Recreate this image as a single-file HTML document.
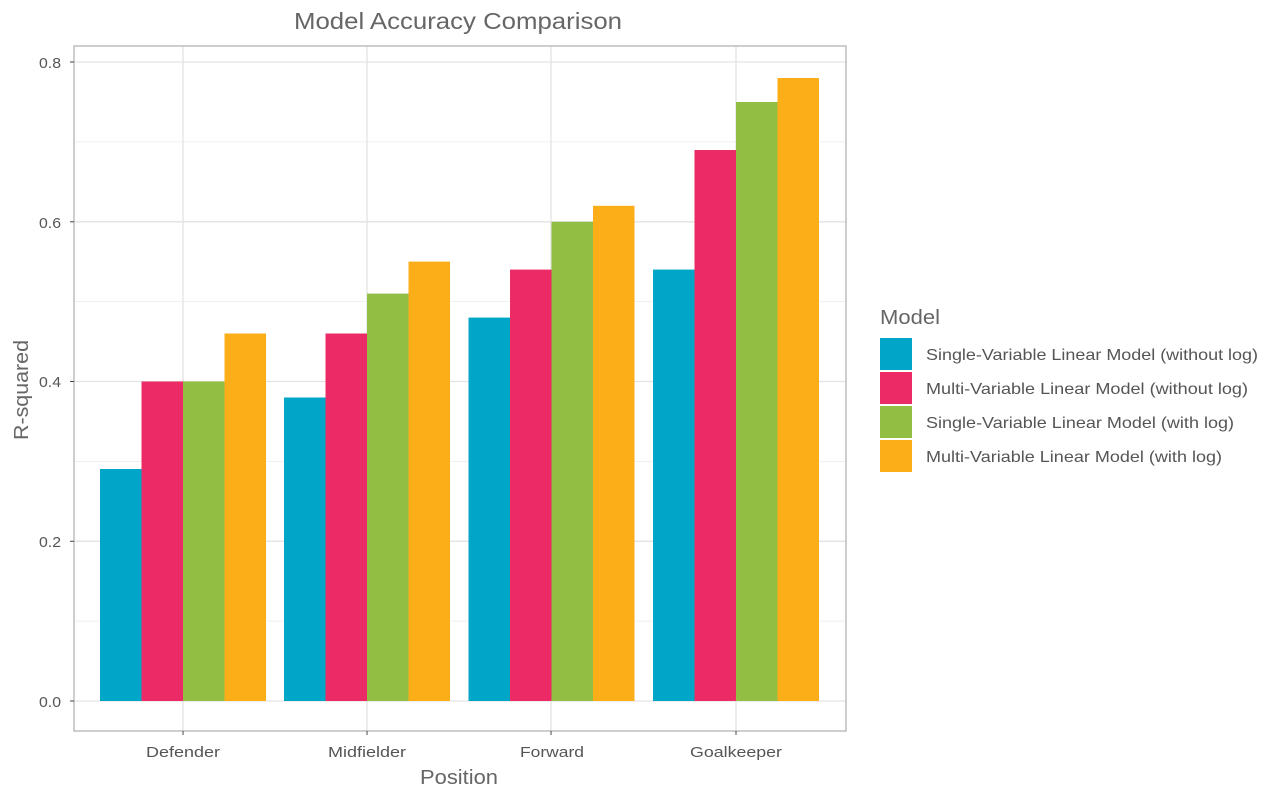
<!DOCTYPE html>
<html><head><meta charset="utf-8"><style>
body{margin:0;background:#fff;}
svg text{font-family:"Liberation Sans",Arial,sans-serif;}
</style></head><body>
<svg width="1280" height="800" viewBox="0 0 1280 800">
<rect width="1280" height="800" fill="#fff"/>
<g stroke="#ebebeb" stroke-width="0.8">
<line x1="74" x2="846" y1="621.1" y2="621.1"/>
<line x1="74" x2="846" y1="461.4" y2="461.4"/>
<line x1="74" x2="846" y1="301.6" y2="301.6"/>
<line x1="74" x2="846" y1="141.9" y2="141.9"/>
</g>
<g stroke="#e3e3e3" stroke-width="1.3">
<line x1="74" x2="846" y1="701" y2="701"/>
<line x1="74" x2="846" y1="541.3" y2="541.3"/>
<line x1="74" x2="846" y1="381.5" y2="381.5"/>
<line x1="74" x2="846" y1="221.8" y2="221.8"/>
<line x1="74" x2="846" y1="62" y2="62"/>
<line x1="183" x2="183" y1="46" y2="731"/>
<line x1="367" x2="367" y1="46" y2="731"/>
<line x1="551" x2="551" y1="46" y2="731"/>
<line x1="736" x2="736" y1="46" y2="731"/>
</g>
<g>
<rect x="100" y="469" width="41.5" height="232" fill="#00A6C8"/>
<rect x="141.5" y="381.5" width="41.5" height="319.5" fill="#EC2B66"/>
<rect x="183" y="381.5" width="41.5" height="319.5" fill="#92BE43"/>
<rect x="224.5" y="333.5" width="41.5" height="367.5" fill="#FBAE17"/>

<rect x="284" y="397.5" width="41.5" height="303.5" fill="#00A6C8"/>
<rect x="325.5" y="333.5" width="41.5" height="367.5" fill="#EC2B66"/>
<rect x="367" y="293.6" width="41.5" height="407.4" fill="#92BE43"/>
<rect x="408.5" y="261.6" width="41.5" height="439.4" fill="#FBAE17"/>

<rect x="468.5" y="317.6" width="41.5" height="383.4" fill="#00A6C8"/>
<rect x="510" y="269.6" width="41.5" height="431.4" fill="#EC2B66"/>
<rect x="551.5" y="221.8" width="41.5" height="479.2" fill="#92BE43"/>
<rect x="593" y="205.8" width="41.5" height="495.2" fill="#FBAE17"/>

<rect x="653" y="269.6" width="41.5" height="431.4" fill="#00A6C8"/>
<rect x="694.5" y="150" width="41.5" height="551" fill="#EC2B66"/>
<rect x="736" y="102" width="41.5" height="599" fill="#92BE43"/>
<rect x="777.5" y="78" width="41.5" height="623" fill="#FBAE17"/>
</g>
<rect x="74" y="46" width="772" height="685" fill="none" stroke="#b3b3b3" stroke-width="1.3"/>
<g stroke="#444" stroke-width="1">
<line x1="70" x2="74" y1="701" y2="701"/><line x1="70" x2="74" y1="541.3" y2="541.3"/>
<line x1="70" x2="74" y1="381.5" y2="381.5"/><line x1="70" x2="74" y1="221.8" y2="221.8"/>
<line x1="70" x2="74" y1="62" y2="62"/>
<line x1="183" x2="183" y1="731" y2="735"/><line x1="367" x2="367" y1="731" y2="735"/>
<line x1="551" x2="551" y1="731" y2="735"/><line x1="736" x2="736" y1="731" y2="735"/>
</g>
<g font-size="15" fill="#555">
<text x="39" y="707" textLength="22" lengthAdjust="spacingAndGlyphs">0.0</text>
<text x="39" y="547" textLength="22" lengthAdjust="spacingAndGlyphs">0.2</text>
<text x="39" y="387" textLength="22" lengthAdjust="spacingAndGlyphs">0.4</text>
<text x="39" y="228" textLength="22" lengthAdjust="spacingAndGlyphs">0.6</text>
<text x="39" y="68" textLength="22" lengthAdjust="spacingAndGlyphs">0.8</text>
</g>
<g font-size="15" fill="#555" lengthAdjust="spacingAndGlyphs">
<text x="146" y="757" textLength="74" lengthAdjust="spacingAndGlyphs">Defender</text>
<text x="328" y="757" textLength="78" lengthAdjust="spacingAndGlyphs">Midfielder</text>
<text x="520" y="757" textLength="64" lengthAdjust="spacingAndGlyphs">Forward</text>
<text x="690" y="757" textLength="92" lengthAdjust="spacingAndGlyphs">Goalkeeper</text>
</g>
<text x="420" y="784" font-size="20" fill="#666" textLength="78" lengthAdjust="spacingAndGlyphs">Position</text>
<text transform="translate(28,440) rotate(-90)" font-size="20" fill="#666" textLength="100" lengthAdjust="spacingAndGlyphs">R-squared</text>
<text x="294" y="29" font-size="23" fill="#666" textLength="328" lengthAdjust="spacingAndGlyphs">Model Accuracy Comparison</text>
<text x="880" y="324" font-size="20" fill="#666" textLength="60" lengthAdjust="spacingAndGlyphs">Model</text>
<rect x="880" y="338" width="32" height="32" fill="#00A6C8"/>
<rect x="880" y="372" width="32" height="32" fill="#EC2B66"/>
<rect x="880" y="406" width="32" height="32" fill="#92BE43"/>
<rect x="880" y="440" width="32" height="32" fill="#FBAE17"/>
<g font-size="16" fill="#555">
<text x="926" y="360" textLength="332" lengthAdjust="spacingAndGlyphs">Single-Variable Linear Model (without log)</text>
<text x="926" y="394" textLength="322" lengthAdjust="spacingAndGlyphs">Multi-Variable Linear Model (without log)</text>
<text x="926" y="428" textLength="308" lengthAdjust="spacingAndGlyphs">Single-Variable Linear Model (with log)</text>
<text x="926" y="462" textLength="296" lengthAdjust="spacingAndGlyphs">Multi-Variable Linear Model (with log)</text>
</g>
</svg>
</body></html>
